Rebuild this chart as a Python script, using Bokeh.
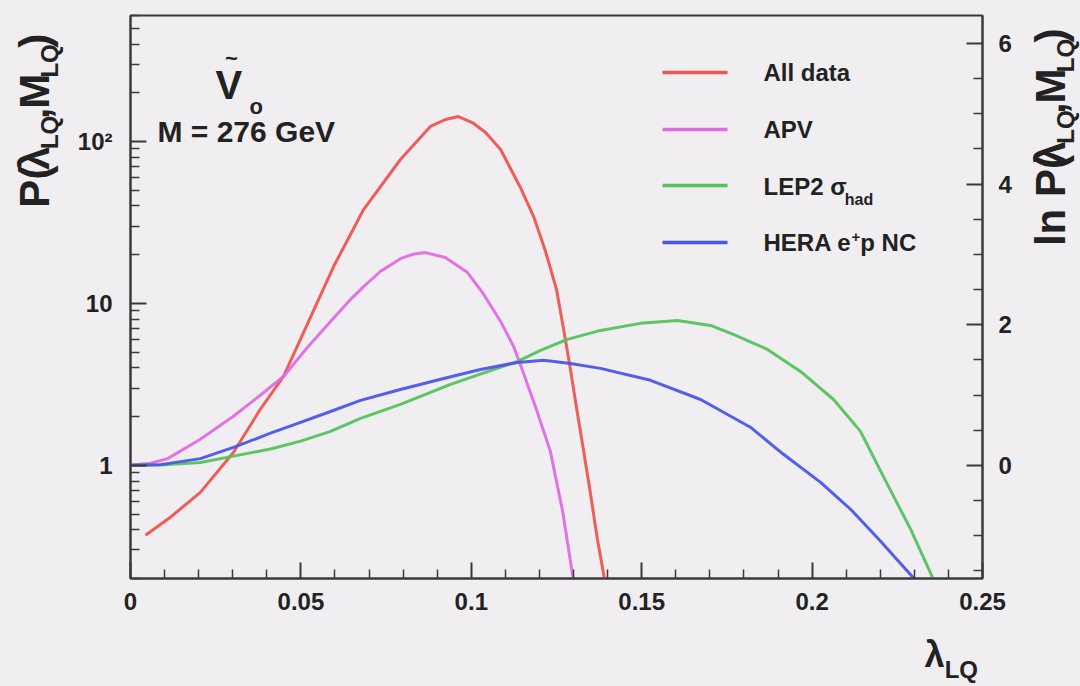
import math
from bokeh.plotting import figure
from bokeh.layouts import row, column
from bokeh.models import Range1d, LinearAxis, LinearScale, FixedTicker, Label
from bokeh.embed import file_html
from bokeh.resources import INLINE

# ---------------- data ----------------
red_lam = [0.0044, 0.0117, 0.0205, 0.0302, 0.0381, 0.0449, 0.0528, 0.0596, 0.0684, 0.0792,
           0.0880, 0.0924, 0.0962, 0.1003, 0.1042, 0.1086, 0.1144, 0.1183, 0.1218, 0.1250,
           0.1271, 0.1291, 0.1312, 0.1329, 0.1350, 0.1370, 0.1391, 0.1408]
red_p = [0.370, 0.478, 0.681, 1.20, 2.22, 3.54, 8.20, 16.9, 38.0, 77.4,
         123.8, 136.7, 142.6, 131.0, 113.7, 89.3, 52.0, 34.4, 20.9, 12.2,
         6.91, 3.91, 2.06, 1.25, 0.662, 0.349, 0.198, 0.120]

apv_lam = [0.0, 0.0059, 0.0109, 0.0205, 0.0302, 0.0381, 0.0449, 0.0519, 0.0587, 0.0646,
           0.0684, 0.0734, 0.0792, 0.0828, 0.0866, 0.0924, 0.0989, 0.1036, 0.1086, 0.1124,
           0.1144, 0.1188, 0.1232, 0.1268, 0.1297, 0.1312]
apv_p = [1.00, 1.03, 1.10, 1.45, 2.01, 2.71, 3.54, 5.35, 7.74, 10.6,
         12.7, 15.8, 18.9, 20.1, 20.6, 19.2, 15.5, 11.4, 7.74, 5.43,
         4.20, 2.31, 1.22, 0.520, 0.212, 0.129]

lep_lam = [0.0, 0.0109, 0.0205, 0.0302, 0.0411, 0.0499, 0.0587, 0.0675, 0.0792, 0.0939,
           0.1136, 0.1203, 0.1282, 0.1379, 0.1496, 0.1605, 0.1702, 0.1769, 0.1869, 0.1966,
           0.2063, 0.2142, 0.2209, 0.2289, 0.2353, 0.2383]
lep_p = [1.00, 1.01, 1.04, 1.14, 1.26, 1.41, 1.62, 1.95, 2.38, 3.16,
         4.39, 5.13, 6.00, 6.81, 7.53, 7.85, 7.31, 6.44, 5.20, 3.80,
         2.55, 1.62, 0.855, 0.403, 0.204, 0.149]

hera_lam = [0.0, 0.0088, 0.0205, 0.0302, 0.0411, 0.0499, 0.0587, 0.0675, 0.0792, 0.0910,
            0.1027, 0.1136, 0.1212, 0.1291, 0.1379, 0.1526, 0.1673, 0.1819, 0.1916, 0.2025,
            0.2113, 0.2201, 0.2295, 0.2333]
hera_p = [1.00, 1.01, 1.10, 1.29, 1.58, 1.84, 2.15, 2.52, 2.94, 3.40,
          3.91, 4.32, 4.45, 4.26, 3.97, 3.35, 2.55, 1.72, 1.17, 0.785,
          0.535, 0.340, 0.204, 0.162]

x_ticks = [0, 0.05, 0.1, 0.15, 0.2, 0.25]
x_tick_labels = ["0", "0.05", "0.1", "0.15", "0.2", "0.25"]
y_ticks = [1, 10, 100]
y_tick_labels = ["1", "10", "10\u00b2"]
ln_ticks = [0, 2, 4, 6]

series_colors = ["#ee5450", "#de6be4", "#55c25c", "#4a56e8"]

# ---------------- layout ----------------
W, H = 1080, 686
LW, RW = 68, 52            # side strips holding the rotated axis titles
TOPH = 630                 # height of the row with the plot
FL, FR, FT, FB = 130, 982, 15, 578   # frame edges in page pixels
X0, X1 = 0.0, 0.25
Y0, Y1 = 0.2, 600.0
BG = "#f0eef0"
AX = "#3a3a3a"
TXT = "#222222"
FONT = "Liberation Sans"
SHIFT = 0.4   # measured baseline offset of rendered labels, in em

p = figure(width=W - LW - RW, height=TOPH, x_range=Range1d(X0, X1), y_range=Range1d(Y0, Y1),
           y_axis_type="log", output_backend="svg", toolbar_location=None,
           min_border_left=FL - LW, min_border_right=(W - RW) - FR,
           min_border_top=FT, min_border_bottom=TOPH - FB)
p.background_fill_color = BG
p.border_fill_color = BG
p.outline_line_color = AX
p.outline_line_width = 2
p.xgrid.visible = False
p.ygrid.visible = False

p.extra_y_ranges = {"ln": Range1d(math.log(Y0), math.log(Y1))}
p.extra_y_scales = {"ln": LinearScale()}
rax = LinearAxis(y_range_name="ln")
p.add_layout(rax, "right")


def style_axis(ax, standoff):
    ax.axis_line_color = AX
    ax.axis_line_width = 2
    ax.major_tick_line_color = AX
    ax.major_tick_line_width = 2
    ax.minor_tick_line_color = AX
    ax.minor_tick_line_width = 1.5
    ax.major_tick_in = 16
    ax.major_tick_out = 0
    ax.minor_tick_in = 9
    ax.minor_tick_out = 0
    ax.major_label_text_font = FONT
    ax.major_label_text_font_style = "bold"
    ax.major_label_text_font_size = "24px"
    ax.major_label_text_color = TXT
    ax.major_label_standoff = standoff


xax = p.xaxis[0]
xax.ticker = FixedTicker(ticks=x_ticks,
                         minor_ticks=[i / 100 for i in range(1, 25) if i % 5 != 0])
xax.major_label_overrides = {t: l for t, l in zip(x_ticks, x_tick_labels)}
style_axis(xax, 14)

yax = p.yaxis[0]
yminor = [m * 10 ** d for d in range(-1, 3) for m in range(2, 10)]
yax.ticker = FixedTicker(ticks=y_ticks, minor_ticks=[v for v in yminor if Y0 <= v <= Y1])
yax.major_label_overrides = {t: l for t, l in zip(y_ticks, y_tick_labels)}
style_axis(yax, 18)

rax.ticker = FixedTicker(ticks=ln_ticks, minor_ticks=[k / 2 for k in range(-3, 13) if k % 4 != 0])
style_axis(rax, 16)

# ---------------- curves ----------------
for xs, ys, c in zip([red_lam, apv_lam, lep_lam, hera_lam],
                     [red_p, apv_p, lep_p, hera_p], series_colors):
    p.line(xs, ys, line_color=c, line_width=3, line_alpha=0.95, line_join="round")


# ---------------- side strips ----------------
def strip(w, h):
    f = figure(width=w, height=h, x_range=Range1d(0, w), y_range=Range1d(h, 0),
               output_backend="svg", toolbar_location=None,
               x_axis_location=None, y_axis_location=None,
               min_border=0, min_border_left=0, min_border_right=0,
               min_border_top=0, min_border_bottom=0)
    f.background_fill_color = BG
    f.border_fill_color = BG
    f.outline_line_color = None
    f.xgrid.visible = False
    f.ygrid.visible = False
    f.styles = {"background-color": BG}
    return f


left = strip(LW, TOPH)
right = strip(RW, TOPH)
bottom = strip(W, H - TOPH)
p.styles = {"background-color": BG}

# ---------------- text helpers ----------------
CW = {" ": 278, "(": 333, ")": 333, ",": 278, "+": 584, "=": 584, ".": 278,
      "0": 556, "1": 556, "2": 556, "6": 556, "7": 556,
      "A": 722, "C": 722, "E": 667, "G": 778, "H": 722, "L": 611, "M": 833, "N": 722,
      "P": 667, "Q": 778, "R": 722, "V": 667, "a": 556, "d": 611, "e": 556, "h": 611,
      "l": 278, "n": 611, "o": 611, "p": 611, "t": 333, "\u03bb": 560, "\u03c3": 610}


def tw(s, size):
    return sum(CW.get(ch, 600) for ch in s) * size / 1000.0


def X(px):
    return X0 + (px - FL) / (FR - FL) * (X1 - X0)


def Y(py):
    l0, l1 = math.log10(Y0), math.log10(Y1)
    return 10 ** (l0 + (FB - py) / (FB - FT) * (l1 - l0))


def label(fig, x, y, text, size, angle=0.0, align="left"):
    fig.add_layout(Label(x=x, y=y, text=text, text_font=FONT,
                         text_font_style="bold", text_font_size=f"{size}px",
                         text_color=TXT, angle=angle, text_align=align,
                         text_baseline="alphabetic"))


def put_main(px, py, text, size, align="left"):
    label(p, X(px), Y(py - SHIFT * size), text, size, align=align)


def run_main(px, py, pieces):
    for t, s, dy in pieces:
        put_main(px, py + dy, t, s)
        px += tw(t, s)


def run_strip_h(fig, ox, oy, px, py, pieces):
    for t, s, dy in pieces:
        label(fig, px - ox, py + dy - oy - SHIFT * s, t, s)
        px += tw(t, s)


def run_strip_v(fig, ox, oy, px, py, pieces):
    for t, s, dx in pieces:
        label(fig, px + dx - ox - SHIFT * s, py - oy, t, s, angle=math.pi / 2)
        py -= tw(t, s)


# axis titles (page-pixel positions, converted to each strip)
run_strip_v(left, 0, 0, 51, 215, [("P(", 42, 0), ("\u03bb", 42, 0), ("LQ", 24, 8),
                                  (",", 42, 0), ("M", 42, 0), ("LQ", 24, 8), (")", 42, 0)])
run_strip_v(right, W - RW, 0, 1067, 258, [("ln P(", 42, 0), ("\u03bb", 42, 0), ("LQ", 24, 8),
                                          (",", 42, 0), ("M", 42, 0), ("LQ", 24, 8), (")", 42, 0)])
run_strip_h(bottom, 0, TOPH, 924, 668, [("\u03bb", 36, 0), ("LQ", 24, 11)])

# model label
put_main(215, 100, "V", 40)
put_main(231, 67, "~", 22, align="center")
put_main(249, 115, "o", 22)
put_main(157, 143, "M = 276 GeV", 30)

# legend
leg_y = [72, 129, 185, 242]
for c, ly in zip(series_colors, leg_y):
    p.segment(x0=[X(662)], x1=[X(727)], y0=[Y(ly)], y1=[Y(ly)], line_color=c, line_width=3.5)
run_main(763, 82, [("All data", 24, 0)])
run_main(763, 139, [("APV", 24, 0)])
run_main(763, 196, [("LEP2 ", 24, 0), ("\u03c3", 24, 0), ("had", 16, 9)])
run_main(763, 252, [("HERA e", 24, 0), ("+", 15, -10), ("p NC", 24, 0)])

top_row = row(left, p, right, spacing=0, styles={"background-color": BG})
page = column(top_row, bottom, spacing=0, styles={"background-color": BG})
open("out.html", "w").write(file_html(page, INLINE))
